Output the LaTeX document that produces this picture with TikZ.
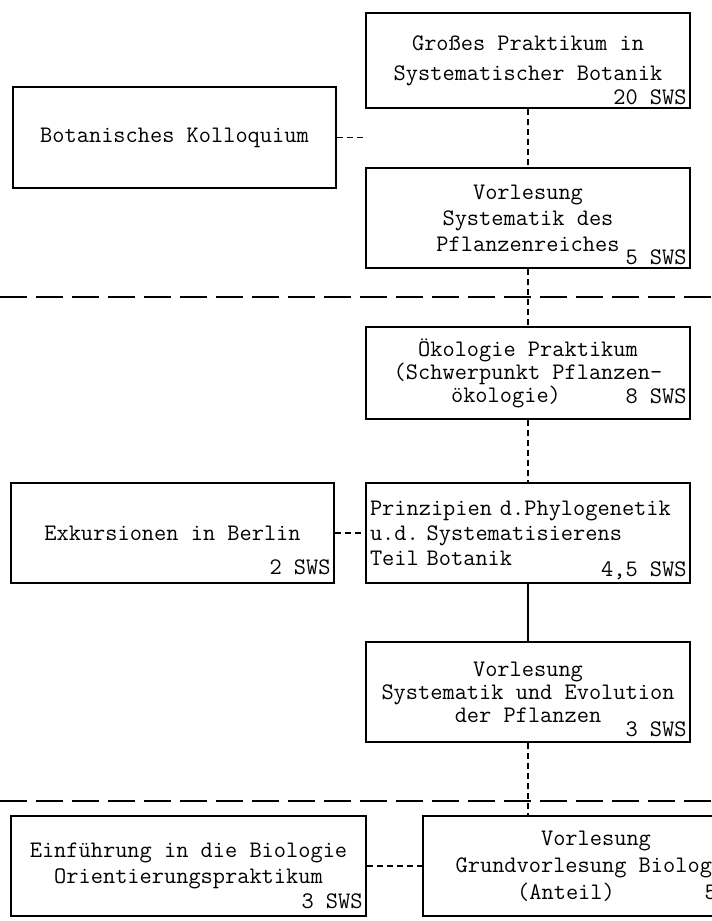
\documentclass[tikz,border=0pt]{standalone}
\usepackage{fontspec}

\begin{document}
\begin{tikzpicture}[x=1pt, y=-1pt,
    kasten/.style={draw, line width=1.6pt, minimum width=324pt, minimum height=100pt, align=center, font=\fontsize{23.7}{23}\selectfont\ttfamily\frenchspacing},
    sws/.style={anchor=base east, inner sep=0pt, font=\fontsize{23.7}{23}\selectfont\ttfamily},
    verb/.style={line width=1.6pt, dash pattern=on 6pt off 4pt},
    trenn/.style={line width=1.8pt, dash pattern=on 27pt off 9pt}]
    %tikz studienplan botanik
    \clip (0,0) rectangle (712,921);
    \node[kasten, minimum height=95pt] at (528, 60.5) (gross){Großes Praktikum in\\[7pt]Systematischer Botanik};
    \node[kasten, minimum width=323pt, minimum height=101pt] at (174.5, 137.5) (kollo){Botanisches Kolloquium};
    \node[kasten] at (528, 218) (vorlA){Vorlesung\\[3pt]Systematik des\\[3pt]Pflanzenreiches};
    \node[kasten, minimum height=92pt] at (528, 373) (oeko){Ökologie Praktikum\\(Schwerpunkt Pflanzen-\\ökologie)\hspace*{44pt}};
    \node[kasten, minimum width=323pt] at (172.5, 533) (exk){Exkursionen in Berlin};
    \node[kasten, align=left, text width=316pt, inner sep=4pt] at (528, 533) (prinz){Prinzipien d.Phylogenetik\\[2pt]u.d. Systematisierens\\[2pt]Teil Botanik};
    \node[kasten] at (528, 692) (vorlB){Vorlesung\\Systematik und Evolution\\der Pflanzen};
    \node[kasten, minimum width=355pt] at (188.5, 866) (einf){Einführung in die Biologie\\[3pt]Orientierungspraktikum};
    \node[kasten, minimum width=346pt] at (596, 866) (grund){Vorlesung\\[4pt]Grundvorlesung Biologie\\[4pt](Anteil)\hspace*{60pt}};
    % Stundenzahlen
    \node[sws] at ([xshift=-4pt, yshift=4pt]gross.south east) (grossS){20 SWS};
    \node[sws] at ([xshift=-4pt, yshift=4pt]vorlA.south east) (vorlAS){5 SWS};
    \node[sws] at ([xshift=-4pt, yshift=16pt]oeko.south east) (oekoS){8 SWS};
    \node[sws] at ([xshift=-4pt, yshift=9pt]exk.south east) (exkS){2 SWS};
    \node[sws] at ([xshift=-4pt, yshift=7pt]prinz.south east) (prinzS){4,5 SWS};
    \node[sws] at ([xshift=-4pt, yshift=6pt]vorlB.south east) (vorlBS){3 SWS};
    \node[sws] at ([xshift=-4pt, yshift=8pt]einf.south east) (einfS){3 SWS};
    \node[sws] at ([xshift=-4pt, yshift=17pt]grund.south east) (grundS){5 SWS};
    % Trennlinien
    \draw[trenn] (0, 297) -- (712, 297);
    \draw[trenn] (0, 801) -- (712, 801);
    % Verbindungen
    \coordinate (kolloEnd) at (364, 137.5);
    \draw[verb] (kollo.east) -- (kolloEnd);
    \draw[verb] (gross.south) -- (vorlA.north);
    \draw[verb] (vorlA.south) -- (oeko.north);
    \draw[verb] (oeko.south) -- (prinz.north);
    \draw[line width=1.6pt] (prinz.south) -- (vorlB.north);
    \draw[verb] (vorlB.south) -- (vorlB.south |- grund.north);
    \draw[verb] (exk.east) -- (prinz.west);
    \draw[verb] (einf.east) -- (grund.west);
\end{tikzpicture}
\end{document}
